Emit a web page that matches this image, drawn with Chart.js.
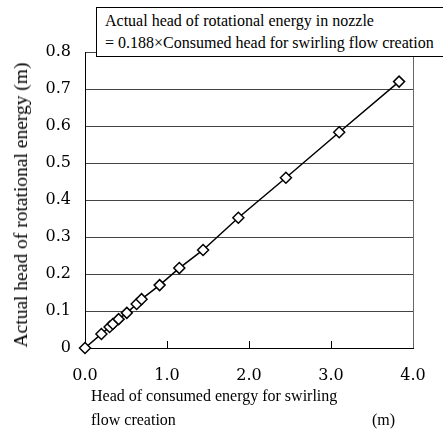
<!DOCTYPE html>
<html>
<head>
<meta charset="utf-8">
<script src="https://cdn.jsdelivr.net/npm/chart.js@4.4.1/dist/chart.umd.min.js"></script>
<style>
    html, body { margin: 0; padding: 0; background: #fff; }
    #wrap { position: relative; width: 443px; height: 432px; }
    #note {
        position: absolute; left: 96px; top: 7px; width: 347px; height: 50px;
        border: 1px solid #000; border-right: none; background: #fff; box-sizing: border-box;
        font-family: "Liberation Serif", serif; font-size: 16px; line-height: 22px;
        padding: 2px 0 0 8px; white-space: nowrap; color: #000;
    }
    .xt { position: absolute; font-family: "Liberation Serif", serif; font-size: 16px; color: #000; white-space: nowrap; }
    #ytitle {
        position: absolute; left: 21px; top: 205px; transform: translate(-50%, -50%) rotate(-90deg);
        font-family: "Liberation Serif", serif; font-size: 19.5px; white-space: nowrap; color: #000;
    }
</style>
</head>
<body>
<div id="wrap">
    <canvas id="chart" width="443" height="432"></canvas>
    <div id="note">Actual head of rotational energy in nozzle<br>= 0.188×Consumed head for swirling flow creation</div>
    <div id="ytitle">Actual head of rotational energy (m)</div>
    <div class="xt" style="left:91px; top:387px;">Head of consumed energy for swirling</div>
    <div class="xt" style="left:91px; top:411px;">flow creation</div>
    <div class="xt" style="left:372px; top:411px;">(m)</div>
</div>
<script>
// Valores
const consumedHead = [0, 0.20, 0.30, 0.34, 0.41, 0.51, 0.63, 0.69, 0.91, 1.15, 1.44, 1.87, 2.45, 3.10, 3.83];
const rotationalHead = [0, 0.038, 0.057, 0.065, 0.078, 0.095, 0.119, 0.132, 0.170, 0.216, 0.265, 0.352, 0.460, 0.583, 0.720];

const tickFont = { family: '"DejaVu Serif", serif', size: 16 };

// ticks internos del eje x y borde derecho
const framePlugin = {
    id: 'frame',
    afterDraw(chart) {
        const { ctx, chartArea: a, scales } = chart;
        ctx.save();
        ctx.strokeStyle = '#000';
        ctx.lineWidth = 1;
        scales.x.ticks.forEach(t => {
            if (t.value <= 0 || t.value >= 4) return;
            const px = Math.round(scales.x.getPixelForValue(t.value)) + 0.5;
            ctx.beginPath();
            ctx.moveTo(px, a.bottom);
            ctx.lineTo(px, a.bottom - 7);
            ctx.stroke();
        });
        ctx.strokeStyle = '#666';
        ctx.beginPath();
        ctx.moveTo(a.right + 0.5, a.top);
        ctx.lineTo(a.right + 0.5, a.bottom);
        ctx.stroke();
        ctx.restore();
    }
};

new Chart(document.getElementById('chart'), {
    type: 'scatter',
    data: {
        datasets: [{
            data: consumedHead.map((x, i) => ({ x, y: rotationalHead[i] })),
            showLine: true,
            borderColor: '#000',
            borderWidth: 1.5,
            pointStyle: 'rectRot',
            pointRadius: 5.5,
            pointBorderWidth: 1.5,
            pointBackgroundColor: '#fff',
            pointBorderColor: '#000',
            clip: false
        }]
    },
    options: {
        responsive: false,
        animation: false,
        layout: { padding: { top: 52, right: 30, left: 0, bottom: 0 } },
        plugins: { legend: { display: false }, tooltip: { enabled: false } },
        scales: {
            x: {
                min: 0, max: 4,
                afterFit: s => { s.height = 84; },
                ticks: { stepSize: 1, color: '#000', padding: 10, font: tickFont, callback: v => v.toFixed(1) },
                grid: { display: false },
                border: { color: '#000', width: 1 }
            },
            y: {
                min: 0, max: 0.8,
                afterFit: s => { s.width = 85; },
                ticks: { stepSize: 0.1, color: '#000', padding: 14, font: tickFont, callback: v => v === 0 ? '0' : v.toFixed(1) },
                grid: { color: '#444', drawTicks: false },
                border: { color: '#000', width: 1 }
            }
        }
    },
    plugins: [framePlugin]
});
</script>
</body>
</html>
